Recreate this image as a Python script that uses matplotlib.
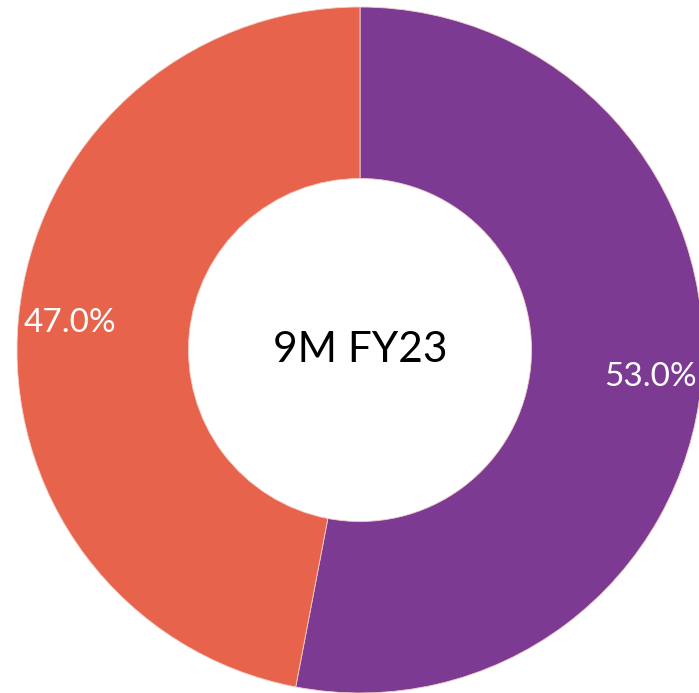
import matplotlib
matplotlib.use("Agg")
import matplotlib.pyplot as plt

categories = ["Segment A", "Segment B"]
values = [53.0, 47.0]
colors = ["#7D3A93", "#E8634C"]
center_label = "9M FY23"

W, H = 699, 693
fig = plt.figure(figsize=(W / 100, H / 100), dpi=100)
cx, cy, r = 360, 350, 343
ax = fig.add_axes([(cx - r) / W, (H - cy - r) / H, 2 * r / W, 2 * r / H])
wedges, texts, autotexts = ax.pie(
    values, colors=colors, startangle=90, counterclock=False,
    radius=1, autopct="%.1f%%", pctdistance=0.85,
    wedgeprops=dict(width=0.5, edgecolor="#f2d0c8", linewidth=0.6),
    textprops=dict(color="white", fontsize=24, family=["Lato", "DejaVu Sans"]),
)
for w in wedges:
    w.set_clip_on(False)
ax.text(0, 0, center_label, ha="center", va="center", fontsize=30.5,
        color="black", family=["Lato", "DejaVu Sans"])
ax.set_xlim(-1, 1)
ax.set_ylim(-1, 1)
ax.set_aspect("equal")
ax.axis("off")
fig.savefig("out.png", dpi=100)
